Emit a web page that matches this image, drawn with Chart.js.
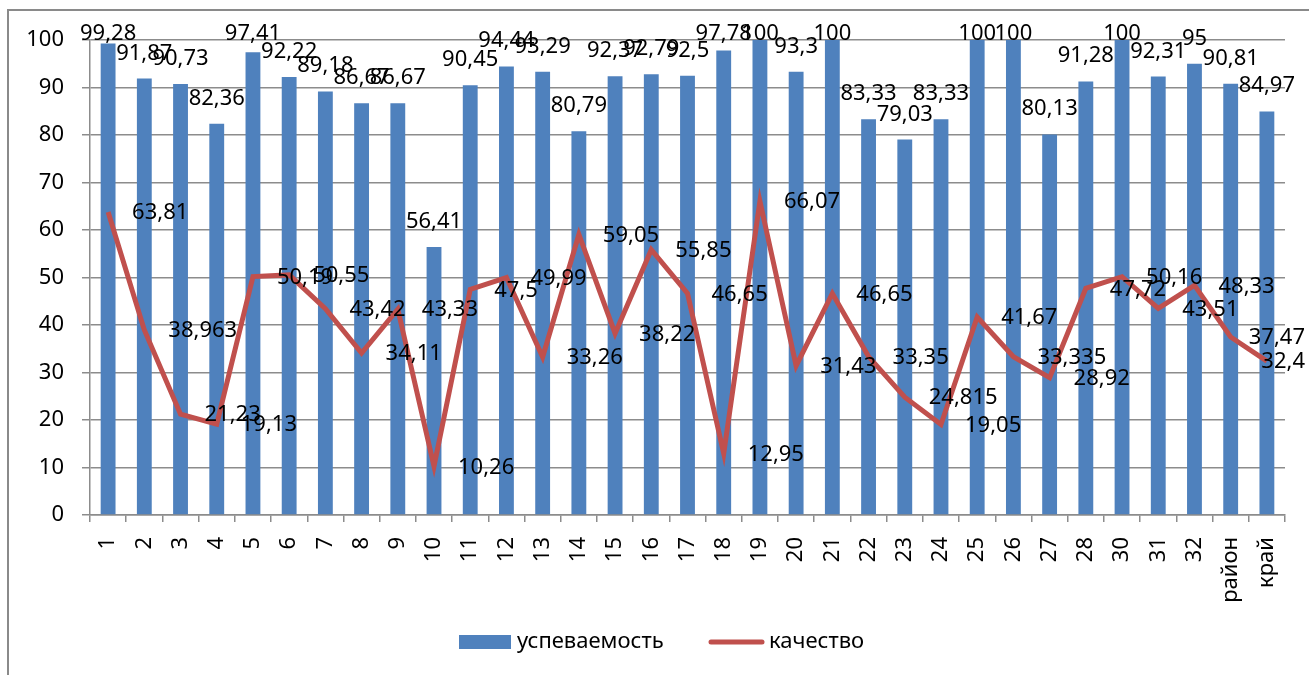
<!DOCTYPE html>
<html>
<head>
<meta charset="utf-8">
<script src="https://cdn.jsdelivr.net/npm/chart.js@4.4.0/dist/chart.umd.min.js"></script>
<style>
    html, body { margin: 0; padding: 0; background: #fff; }
    #wrap { position: relative; width: 1309px; height: 675px; }
</style>
</head>
<body>
<div id="wrap"><canvas id="chart" width="1309" height="675"></canvas></div>
<script>
// categories (schools + district + region)
const categories = ['1', '2', '3', '4', '5', '6', '7', '8', '9', '10', '11', '12', '13', '14', '15', '16',
    '17', '18', '19', '20', '21', '22', '23', '24', '25', '26', '27', '28', '30', '31', '32', 'район', 'край'];

// успеваемость (bars)
const successRate = [99.28, 91.87, 90.73, 82.36, 97.41, 92.22, 89.18, 86.67, 86.67, 56.41, 90.45, 94.44,
    93.29, 80.79, 92.37, 92.79, 92.5, 97.78, 100, 93.3, 100, 83.33, 79.03, 83.33, 100, 100, 80.13,
    91.28, 100, 92.31, 95, 90.81, 84.97];

// качество (line)
const quality = [63.81, 38.963, 21.23, 19.13, 50.19, 50.55, 43.42, 34.11, 43.33, 10.26, 47.5, 49.99,
    33.26, 59.05, 38.22, 55.85, 46.65, 12.95, 66.07, 31.43, 46.65, 33.35, 24.815, 19.05, 41.67, 33.335,
    28.92, 47.72, 50.16, 43.51, 48.33, 37.47, 32.4];

const yTicks = [0, 10, 20, 30, 40, 50, 60, 70, 80, 90, 100];

const FONT = '"Noto Sans", "Open Sans", sans-serif';
const BLUE = '#4F81BD';
const RED = '#C0504D';
const GRID = '#8c8c8c';

const fmt = v => String(v).replace('.', ',');

// outer frame
const framePlugin = {
    id: 'frame',
    beforeDraw(chart) {
        const ctx = chart.ctx;
        ctx.save();
        ctx.fillStyle = '#fff';
        ctx.fillRect(0, 0, chart.width, chart.height);
        ctx.strokeStyle = '#8a8a8a';
        ctx.lineWidth = 2;
        ctx.beginPath();
        ctx.moveTo(8, chart.height + 5);
        ctx.lineTo(8, 10);
        ctx.lineTo(chart.width + 5, 10);
        ctx.stroke();
        ctx.restore();
    }
};

// data labels
const labelPlugin = {
    id: 'valueLabels',
    afterDatasetsDraw(chart) {
        const ctx = chart.ctx;
        ctx.save();
        ctx.font = '22px ' + FONT;
        ctx.fillStyle = '#000';

        // bar labels above the bars (kept inside the frame at the top)
        const bars = chart.getDatasetMeta(0).data;
        ctx.textAlign = 'center';
        ctx.textBaseline = 'alphabetic';
        bars.forEach((bar, i) => {
            const y = Math.max(bar.y - 19, 40);
            ctx.fillText(fmt(successRate[i]), bar.x, y);
        });

        // line labels to the right of the points
        const pts = chart.getDatasetMeta(1).data;
        ctx.textAlign = 'left';
        ctx.textBaseline = 'middle';
        pts.forEach((p, i) => {
            const txt = fmt(quality[i]);
            const w = ctx.measureText(txt).width;
            let x = p.x + 24;
            if (x + w > 1305) x = 1305 - w;
            ctx.fillText(txt, x, p.y + 1);
        });
        ctx.restore();
    }
};

// legend at the bottom
const legendPlugin = {
    id: 'bottomLegend',
    afterDraw(chart) {
        const ctx = chart.ctx;
        const y = 642;
        ctx.save();
        ctx.font = '22px ' + FONT;
        ctx.textBaseline = 'middle';
        ctx.textAlign = 'left';

        ctx.fillStyle = BLUE;
        ctx.fillRect(459, y - 7, 52, 14);
        ctx.fillStyle = '#000';
        ctx.fillText('успеваемость', 517, y);

        ctx.strokeStyle = RED;
        ctx.lineWidth = 5;
        ctx.lineCap = 'round';
        ctx.beginPath();
        ctx.moveTo(711, y);
        ctx.lineTo(762, y);
        ctx.stroke();
        ctx.fillText('качество', 769, y);
        ctx.restore();
    }
};

const chart = new Chart(document.getElementById('chart').getContext('2d'), {
    data: {
        labels: categories,
        datasets: [
            {
                type: 'bar',
                label: 'успеваемость',
                data: successRate,
                backgroundColor: BLUE,
                borderWidth: 0,
                categoryPercentage: 1,
                barPercentage: 0.41,
                order: 2
            },
            {
                type: 'line',
                label: 'качество',
                data: quality,
                borderColor: RED,
                backgroundColor: RED,
                borderWidth: 5,
                pointRadius: 0,
                tension: 0,
                order: 1
            }
        ]
    },
    options: {
        responsive: false,
        animation: false,
        layout: { padding: { left: 0, top: 40, right: 24, bottom: 0 } },
        plugins: {
            legend: { display: false },
            tooltip: { enabled: false }
        },
        scales: {
            x: {
                offset: true,
                grid: {
                    offset: true,
                    drawOnChartArea: false,
                    drawTicks: true,
                    tickLength: 7,
                    color: GRID,
                    lineWidth: 1.5
                },
                border: { color: GRID, width: 1.5 },
                ticks: {
                    color: '#000',
                    font: { family: FONT, size: 22 },
                    minRotation: 90,
                    maxRotation: 90,
                    autoSkip: false,
                    padding: 15
                },
                afterFit(scale) { scale.height = 160; }
            },
            y: {
                min: 0,
                max: 100,
                afterBuildTicks(scale) {
                    scale.ticks = yTicks.map(v => ({ value: v }));
                },
                grid: {
                    color: GRID,
                    lineWidth: 1.5,
                    drawTicks: true,
                    tickLength: 8
                },
                border: { color: GRID, width: 1.5 },
                ticks: {
                    color: '#000',
                    font: { family: FONT, size: 22 },
                    padding: 18
                },
                afterFit(scale) { scale.width = 90; }
            }
        }
    },
    plugins: [framePlugin, labelPlugin, legendPlugin]
});
</script>
</body>
</html>
